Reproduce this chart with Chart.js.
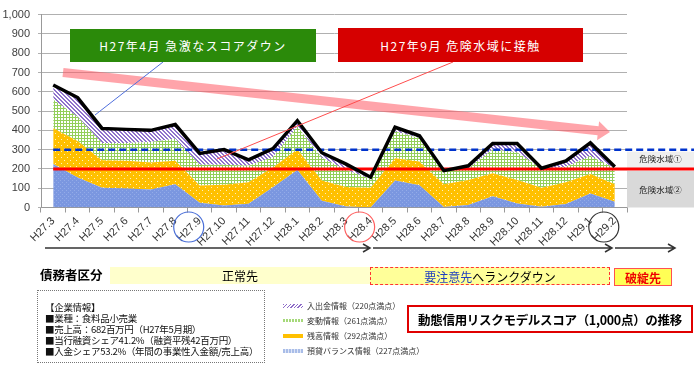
<!DOCTYPE html>
<html lang="ja">
<head>
<meta charset="UTF-8">
<title>動態信用リスクモデルスコアの推移</title>
<script src="https://cdn.jsdelivr.net/npm/chart.js"></script>
<style>
  body { margin: 0; background: #fff; font-family: "Noto Sans CJK JP", sans-serif; }
  #wrap { position: relative; width: 694px; height: 366px; overflow: hidden; }
  #wrap canvas { position: absolute; left: 0; top: 0; }
  .abs { position: absolute; box-sizing: border-box; white-space: nowrap; }
  .center { display: flex; align-items: center; justify-content: center; }
  .note { color: #fff; font-size: 12px; letter-spacing: 1.5px; }
  .zone { font-size: 8.5px; color: #222; width: 67px; left: 627px; text-align: center; }
  .info div { font-size: 9.5px; line-height: 11px; color: #111; letter-spacing: -0.3px; }
  .leg { font-size: 8px; color: #333; left: 283px; display: flex; align-items: center; }
  .leg span.sw { display: inline-block; width: 20px; height: 4px; margin-right: 4px; }
</style>
</head>
<body>
<div id="wrap">
  <canvas id="chart" width="694" height="366"></canvas>

  <!-- annotations on the chart -->
  <div class="abs center note" style="left:70px;top:29px;width:246px;height:33px;background:#2b8a0a;">H27年4月 急激なスコアダウン</div>
  <div class="abs center note" style="left:338px;top:28px;width:245px;height:34px;background:#d60000;">H27年9月 危険水域に接触</div>
  <div class="abs zone" style="top:152px;">危険水域①</div>
  <div class="abs zone" style="top:183px;">危険水域②</div>

  <!-- debtor classification row -->
  <div class="abs" style="left:40px;top:265px;font-size:12.5px;font-weight:bold;">債務者区分</div>
  <div class="abs center" style="left:110px;top:267px;width:260px;height:17px;background:#ffffcc;font-size:12px;">正常先</div>
  <div class="abs center" style="left:370px;top:267px;width:240px;height:18px;background:#ffff99;border:1px dashed #ff3333;font-size:12px;"><span style="color:#1f3fbf">要注意先</span>へランクダウン</div>
  <div class="abs center" style="left:614px;top:268px;width:58px;height:18px;background:#ffff55;border:1.5px solid #ff5050;font-size:12px;font-weight:bold;color:#ee0000;">破綻先</div>

  <!-- company info -->
  <div class="abs info" style="left:37px;top:290px;width:228px;height:73px;border:1.5px dotted #777;padding:11px 0 0 7px;">
    <div>【企業情報】</div>
    <div>■業種：食料品小売業</div>
    <div>■売上高：682百万円（H27年5月期）</div>
    <div>■当行融資シェア41.2%（融資平残42百万円）</div>
    <div>■入金シェア53.2%（年間の事業性入金額/売上高）</div>
  </div>

  <!-- legend -->
  <div class="abs leg" style="top:300px;"><span class="sw" style="background:repeating-linear-gradient(135deg,#8e6bc8 0 1px,#fff 1px 2.5px);"></span>入出金情報（220点満点）</div>
  <div class="abs leg" style="top:315px;"><span class="sw" style="height:3px;background:repeating-linear-gradient(90deg,#a6d97a 0 2px,#fff 2px 3px);"></span>変動情報（261点満点）</div>
  <div class="abs leg" style="top:330px;"><span class="sw" style="background:#ffc000;"></span>残高情報（292点満点）</div>
  <div class="abs leg" style="top:345px;"><span class="sw" style="background:repeating-linear-gradient(90deg,#a9bde8 0 2px,#dfe6f7 2px 3px);"></span>預貸バランス情報（227点満点）</div>

  <!-- title -->
  <div class="abs center" style="left:407px;top:305px;width:286px;height:28px;border:2px solid #e00000;font-size:12.5px;font-weight:bold;letter-spacing:-0.3px;">動態信用リスクモデルスコア（1,000点）の推移</div>
</div>

<script>
const months = ['H27.3', 'H27.4', 'H27.5', 'H27.6', 'H27.7', 'H27.8', 'H27.9', 'H27.10', 'H27.11', 'H27.12',
                'H28.1', 'H28.2', 'H28.3', 'H28.4', 'H28.5', 'H28.6', 'H28.7', 'H28.8', 'H28.9', 'H28.10',
                'H28.11', 'H28.12', 'H29.1', 'H29.2'];

// stacked components (points)
const loanBalance = [225, 155, 103, 99, 93, 120, 25, 10, 20, 105, 195, 35, 5, 0, 140, 115, 2, 13, 58, 21, 4, 18, 72, 30];   // 預貸バランス情報
const balanceInfo = [186, 190, 142, 143, 140, 122, 89, 108, 111, 102, 106, 105, 101, 103, 115, 123, 118, 130, 119, 122, 99, 113, 102, 90]; // 残高情報
const changeInfo  = [149, 125, 90, 93, 107, 115, 107, 103, 85, 55, 119, 118, 88, 45, 139, 122, 67, 61, 124, 144, 96, 80, 93, 84];   // 変動情報
const cashInfo    = [75, 100, 75, 70, 60, 73, 59, 79, 31, 43, 30, 26, 31, 9, 22, 12, 4, 12, 31, 45, 5, 31, 68, 7];              // 入出金情報
const totalScore  = [635, 570, 410, 405, 400, 430, 280, 300, 247, 305, 450, 284, 225, 157, 416, 372, 191, 216, 332, 332, 204, 242, 335, 211];

const yTicks = [0, 100, 200, 300, 400, 500, 600, 700, 800, 900, 1000];
const dangerLine1 = 300;
const dangerLine2 = 200;

// fill textures
function makePattern(size, bg, draw) {
    const c = document.createElement('canvas');
    c.width = size; c.height = size;
    const g = c.getContext('2d');
    g.fillStyle = bg;
    g.fillRect(0, 0, size, size);
    draw(g);
    return g.createPattern(c, 'repeat');
}
const px = (g, col, pts) => { g.fillStyle = col; pts.forEach(p => g.fillRect(p[0], p[1], 1, 1)); };

const bluePat = makePattern(4, '#7b97e0', g => px(g, '#93abe8', [[0, 0], [2, 2]]));
const orangePat = makePattern(6, '#ffc000', g => px(g, '#fff0c0', [[1, 1], [4, 4]]));
const greenPat = makePattern(3, '#ffffff', g => { g.fillStyle = '#93cf5a'; g.fillRect(0, 0, 3, 1); g.fillRect(0, 0, 1, 3); });
const purplePat = makePattern(4, '#ffffff', g => px(g, '#9072cc', [[0, 0], [1, 1], [2, 2], [3, 3], [1, 0], [2, 1], [3, 2], [0, 3]]));

const extras = {
    id: 'extras',
    beforeDatasetDraw(chart, args) {
        if (args.index !== 0) return;
        const { ctx, scales: { x, y }, width, chartArea } = chart;
        const x0 = x.getPixelForValue(0);
        const y1 = y.getPixelForValue(dangerLine1);
        const y2 = y.getPixelForValue(dangerLine2);
        const yb = y.getPixelForValue(0);
        ctx.save();
        // danger zone label boxes
        ctx.fillStyle = '#efefef';
        ctx.fillRect(chartArea.right, y1 + 2, width - chartArea.right, y2 - y1 - 3);
        ctx.fillStyle = '#d9d9d9';
        ctx.fillRect(chartArea.right, y2 + 2, width - chartArea.right, yb - y2 - 2);
        // blue dashed line
        ctx.strokeStyle = '#0033cc';
        ctx.lineWidth = 2.5;
        ctx.setLineDash([7, 4]);
        ctx.beginPath(); ctx.moveTo(x0, y1); ctx.lineTo(width, y1); ctx.stroke();
        // red line
        ctx.setLineDash([]);
        ctx.strokeStyle = '#ff0000';
        ctx.lineWidth = 3;
        ctx.beginPath(); ctx.moveTo(x0, y2); ctx.lineTo(width, y2); ctx.stroke();
        ctx.restore();
    },
    afterDatasetsDraw(chart) {
        const { ctx, scales: { x } } = chart;
        ctx.save();
        // big pink trend arrow
        const sx = 63, sy = 72.5, tx = 610, ty = 132;
        const len = Math.hypot(tx - sx, ty - sy);
        const ux = (tx - sx) / len, uy = (ty - sy) / len;
        const nx = -uy, ny = ux;
        const hw = 4.6, hh = 9.5, hl = 12;
        const bx = tx - ux * hl, by = ty - uy * hl;
        ctx.fillStyle = 'rgba(255, 90, 100, 0.55)';
        ctx.beginPath();
        ctx.moveTo(sx + nx * hw, sy + ny * hw);
        ctx.lineTo(bx + nx * hw, by + ny * hw);
        ctx.lineTo(bx + nx * hh, by + ny * hh);
        ctx.lineTo(tx, ty);
        ctx.lineTo(bx - nx * hh, by - ny * hh);
        ctx.lineTo(bx - nx * hw, by - ny * hw);
        ctx.lineTo(sx - nx * hw, sy - ny * hw);
        ctx.closePath();
        ctx.fill();

        // callout lines
        ctx.lineWidth = 1;
        ctx.strokeStyle = '#4f6fdc';
        ctx.beginPath(); ctx.moveTo(163, 62); ctx.lineTo(95, 115); ctx.stroke();
        ctx.strokeStyle = '#ff4d4d';
        ctx.beginPath(); ctx.moveTo(453, 62); ctx.lineTo(217, 159); ctx.stroke();

        // circles around month labels
        const circle = (i, col) => {
            ctx.strokeStyle = col;
            ctx.lineWidth = 1.2;
            ctx.beginPath();
            ctx.arc(x.getPixelForValue(i) - 11, 227, 15, 0, Math.PI * 2);
            ctx.stroke();
        };
        circle(6, '#4a6fd8');
        circle(13, '#ff6060');
        circle(23, '#333333');

        // period arrows under the axis
        ctx.strokeStyle = '#333';
        ctx.lineWidth = 1.5;
        [[45, 370], [373, 612], [615, 675]].forEach(([a, b]) => {
            ctx.beginPath();
            ctx.moveTo(a, 248); ctx.lineTo(b, 248);
            ctx.moveTo(b - 7, 244); ctx.lineTo(b, 248); ctx.lineTo(b - 7, 252);
            ctx.stroke();
        });
        ctx.restore();
    }
};

Chart.defaults.font.family = '"Liberation Sans", Arial, sans-serif';
Chart.defaults.color = '#404040';

const area = (label, data, bg, fill) => ({
    label, data, backgroundColor: bg, fill, stack: 'parts', order: 1,
    borderWidth: 0, pointRadius: 0, tension: 0
});

new Chart(document.getElementById('chart'), {
    type: 'line',
    data: {
        labels: months,
        datasets: [
            { label: 'スコア', data: totalScore, borderColor: '#000', borderWidth: 3.5, fill: false,
              pointRadius: 0, stack: 'total', order: 0, borderJoinStyle: 'miter' },
            area('預貸バランス情報', loanBalance, bluePat, 'origin'),
            area('残高情報', balanceInfo, orangePat, '-1'),
            area('変動情報', changeInfo, greenPat, '-1'),
            area('入出金情報', cashInfo, purplePat, '-1')
        ]
    },
    options: {
        responsive: false,
        animation: false,
        layout: { padding: { top: 11, right: 67, bottom: 116, left: 0 } },
        plugins: { legend: { display: false }, tooltip: { enabled: false } },
        scales: {
            x: {
                offset: true,
                grid: { display: true, offset: true, drawOnChartArea: false, tickLength: 5, color: '#999' },
                border: { color: '#999' },
                ticks: { autoSkip: false, minRotation: 45, maxRotation: 45, padding: 2, font: { size: 11 }, color: '#333' },
                afterFit: s => { s.height = 42.5; }
            },
            y: {
                stacked: true,
                min: 0, max: 1000,
                afterBuildTicks: s => { s.ticks = yTicks.map(v => ({ value: v })); },
                grid: { color: '#b0b0b0', tickLength: 3 },
                border: { color: '#999' },
                ticks: { padding: 8, font: { size: 11 }, color: '#404040' },
                afterFit: s => { s.width = 41; }
            }
        }
    },
    plugins: [extras]
});
</script>
</body>
</html>
